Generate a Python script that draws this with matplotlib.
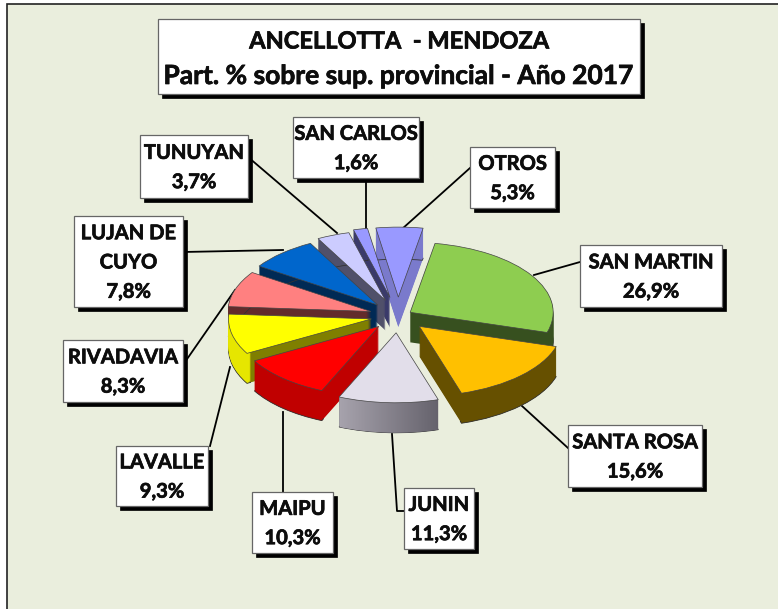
import numpy as np
import matplotlib
matplotlib.use("Agg")
import matplotlib.pyplot as plt
import matplotlib.patheffects as pe
from matplotlib.patches import Rectangle
from matplotlib.path import Path
from matplotlib.colors import LinearSegmentedColormap

# datos
zonas = ["SAN MARTIN", "SANTA ROSA", "JUNIN", "MAIPU", "LAVALLE", "RIVADAVIA",
         "LUJAN DE\nCUYO", "TUNUYAN", "SAN CARLOS", "OTROS"]
valores = [26.9, 15.6, 11.3, 10.3, 9.3, 8.3, 7.8, 3.7, 1.6, 5.3]
etiquetas_pct = ["26,9%", "15,6%", "11,3%", "10,3%", "9,3%", "8,3%", "7,8%", "3,7%", "1,6%", "5,3%"]
titulo1 = "ANCELLOTTA  - MENDOZA"
titulo2 = "Part. % sobre sup. provincial - Año 2017"

# estilo de cada porcion
explode = [0.10, 0.21, 0.24, 0.20, 0.19, 0.20, 0.21, 0.24, 0.27, 0.27]
color_top = ["#8ecd50", "#ffc000", "#e2deea", "#ff0000", "#ffff00", "#ff8080",
             "#0066cc", "#ccccff", "#9999ff", "#9999ff"]
color_lado = ["#37501f", "#665000", "#5a5860", "#c00000", "#7f7f00", "#632b2b",
              "#002a55", "#50506a", "#3a3a6a", "#7a7acc"]
color_borde = ["#37501f", "#665000", "#8a8790", "#c00000", "#e6e600", "#632b2b",
               "#002a55", "#50506a", "#3a3a6a", "#7a7acc"]
orden = [4, 7, 9, 8, 6, 5, 3, 2, 1, 0]  # rango de dibujo de cada porcion, 0 = mas atras

# cajas: x0, y0, x1, y1 en pixeles, y lineas guia
cajas = [(580, 245, 722, 307), (568, 425, 702, 487), (404, 488, 474, 549),
         (252, 492, 333, 553), (116, 446, 208, 506), (63, 340, 183, 402),
         (74, 216, 183, 307), (140, 135, 248, 198), (293, 117, 419, 178),
         (470, 147, 555, 208)]
guias = [((580, 262), (534, 275)), ((568, 448), (522, 406)), ((404, 511), (397, 511), (392, 434)),
         ((283, 492), (283, 412)), ((210, 446), (230, 367)), ((185, 362), (235, 290)),
         ((183, 252), (283, 250)), ((248, 157), (337, 233)), ((366, 178), (366, 230)),
         ((470, 168), (402, 229))]

W, H = 778, 609
CX, CY = 398, 316
RX, RY = 143, 70
PROF = 30
FONDO = "#eaeedd"

plt.rcParams["font.family"] = ["Lato", "DejaVu Sans"]
fig = plt.figure(figsize=(W / 100, H / 100), dpi=100, facecolor="white")

ax = fig.add_axes([0, 0, 1, 1])
ax.set_xlim(0, W)
ax.set_ylim(H, 0)
ax.axis("off")
ax.add_patch(Rectangle((7, 4), W, H, facecolor=FONDO, edgecolor="#222222", lw=1.2))

for g in guias:
    p = np.array(g)
    ax.plot(p[:, 0], p[:, 1], color="black", lw=1.3, zorder=2)

# torta: capas apiladas hacia abajo para dar profundidad
pie = fig.add_axes([0, 0, 1, 1], facecolor="none")
anillos_junin = []
for d in range(PROF, 0, -1):
    capa, _ = pie.pie(valores, explode=explode, startangle=80, counterclock=False,
                      center=(0, -d / RY), colors=color_lado, wedgeprops={"lw": 0})
    aro, _ = pie.pie(valores, explode=explode, startangle=80, counterclock=False,
                     center=(0, -d / RY), colors=color_borde,
                     wedgeprops={"width": 0.03, "lw": 0.6 if d == PROF else 0, "edgecolor": "#333333"})
    for i in range(len(valores)):
        capa[i].set_zorder(orden[i] * 1000 + PROF - d)
        aro[i].set_zorder(orden[i] * 1000 + 100 + PROF - d)
    anillos_junin.append(aro[2])

arriba, _ = pie.pie(valores, explode=explode, startangle=80, counterclock=False,
                    colors=color_top, wedgeprops={"lw": 0.5, "edgecolor": "#444444"})
for i in range(len(valores)):
    arriba[i].set_zorder(orden[i] * 1000 + 500)

# degradado del borde de JUNIN
gris = LinearSegmentedColormap.from_list("gris", ["#aaa6b0", "#5f5c66"])
img = pie.imshow(np.linspace(0, 1, 100).reshape(1, -1), cmap=gris, aspect="auto",
                 extent=(-0.45, 0.35, -1.9, -0.5), zorder=orden[2] * 1000 + 300)
img.set_clip_path(Path.make_compound_path(*[w.get_path() for w in anillos_junin]), pie.transData)

pie.set_aspect("auto")
pie.set_xlim(-CX / RX, (W - CX) / RX)
pie.set_ylim((CY - H) / RY, CY / RY)
pie.axis("off")

# cajas de texto
ax2 = fig.add_axes([0, 0, 1, 1], facecolor="none")
ax2.set_xlim(0, W)
ax2.set_ylim(H, 0)
ax2.axis("off")
grueso = [pe.withStroke(linewidth=0.5, foreground="#0d0d0d")]


def caja(x0, y0, x1, y1):
    ax2.add_patch(Rectangle((x0 + 4, y0 + 4), x1 - x0, y1 - y0, facecolor="black", edgecolor="black", lw=0.5))
    ax2.add_patch(Rectangle((x0, y0), x1 - x0, y1 - y0, facecolor="white", edgecolor="#666666", lw=0.9))


caja(158, 19, 640, 94)
ax2.text(399, 41, titulo1, ha="center", va="center", fontsize=17, fontweight="bold", color="#0d0d0d",
         path_effects=grueso)
ax2.text(398, 76, titulo2, ha="center", va="center", fontsize=19, fontweight="bold", color="#0d0d0d",
         path_effects=grueso)
for c, z, e in zip(cajas, zonas, etiquetas_pct):
    caja(c[0], c[1], c[2], c[3])
    ax2.text((c[0] + c[2]) / 2, (c[1] + c[3]) / 2 + 1, z + "\n" + e, ha="center", va="center", fontsize=14.5,
             fontweight="bold", color="#0d0d0d", linespacing=1.58, path_effects=grueso)

fig.savefig("out.png", dpi=100)
